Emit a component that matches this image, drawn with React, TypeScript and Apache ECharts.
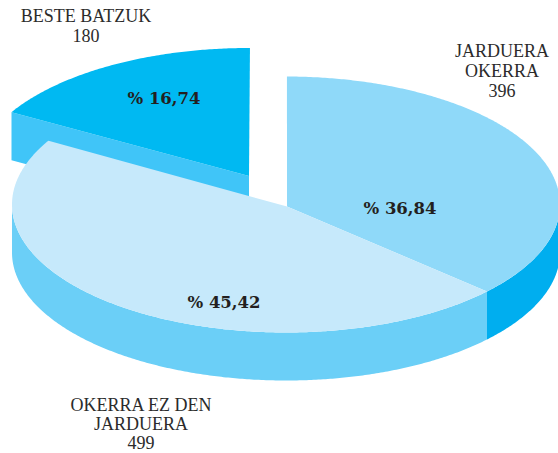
import React, { useEffect, useRef } from "react";
import * as echarts from "echarts";

const categories = ["JARDUERA\nOKERRA", "OKERRA EZ DEN\nJARDUERA", "BESTE BATZUK"];
const counts = [396, 499, 180];
const percentLabels = ["% 36,84", "% 45,42", "% 16,74"];

const topColors = ["#8FD9F9", "#C6E9FB", "#00B9F2"];
const wallColors = ["#00AEEF", "#6BCFF7", "#40C5F8"];
const exploded = [0, 0, 1];
const drawOrder = [2, 0, 1];
const nameCenters = [[502, 71], [141, 424], [86, 26]];
const nameLineHeights = [20, 19, 20];
const percentCenters = [[400, 208.5], [224, 302.5], [164, 98.5]];

const CX = 286, CY = 204.5, RX = 274, RY = 128, DEPTH = 48;
const START = 0.2;
const EXPLODE_DX = -37, EXPLODE_DY = -28.5;
const APEX_DX = 1, APEX_DY = 2;
const SERIF = "'Liberation Serif', serif";
const BOLD_SERIF = "'DejaVu Serif', serif";

const total = counts.reduce((a, b) => a + b, 0);

function renderSlice(_params: any, api: any) {
  const idx = api.value(1);
  const before = counts.slice(0, idx).reduce((a, b) => a + b, 0);
  const a0 = START + (before / total) * 360;
  const a1 = START + ((before + api.value(0)) / total) * 360;
  const off = exploded[idx];
  const ox = CX + off * EXPLODE_DX;
  const oy = CY + off * EXPLODE_DY;
  const rim = (deg: number, dy = 0) => {
    const t = (deg * Math.PI) / 180;
    return [ox + RX * Math.sin(t), oy - RY * Math.cos(t) + dy];
  };
  const arc = (from: number, to: number, dy = 0) => {
    const pts: number[][] = [];
    const n = Math.max(2, Math.ceil(Math.abs(to - from) * 2));
    for (let i = 0; i <= n; i++) pts.push(rim(from + ((to - from) * i) / n, dy));
    return pts;
  };
  const apex = [ox + (1 - off) * APEX_DX, oy + (1 - off) * APEX_DY];
  const children: any[] = [];

  if (off) {
    // Cut face of the pulled-out slice
    const r = rim(a0);
    children.push({
      type: "polygon",
      shape: { points: [r, apex, [apex[0], apex[1] + DEPTH], [r[0], r[1] + DEPTH]] },
      style: { fill: wallColors[idx] },
    });
  }
  const w0 = Math.max(a0, 90);
  const w1 = Math.min(a1, 270);
  if (w1 > w0) {
    children.push({
      type: "polygon",
      shape: { points: [...arc(w0, w1), ...arc(w1, w0, DEPTH)] },
      style: { fill: wallColors[idx] },
    });
  }
  children.push({
    type: "polygon",
    shape: { points: [apex, ...arc(a0, a1)] },
    style: { fill: topColors[idx] },
  });
  children.push({
    type: "text",
    style: {
      text: `${categories[idx]}\n${counts[idx]}`,
      x: nameCenters[idx][0],
      y: nameCenters[idx][1],
      align: "center",
      verticalAlign: "middle",
      font: `18px ${SERIF}`,
      lineHeight: nameLineHeights[idx],
      fill: "#2b2b2b",
    },
  });
  children.push({
    type: "text",
    style: {
      text: percentLabels[idx],
      x: percentCenters[idx][0],
      y: percentCenters[idx][1],
      align: "center",
      verticalAlign: "middle",
      font: `bold 16.5px ${BOLD_SERIF}`,
      fill: "#231f20",
    },
  });
  return { type: "group", children };
}

export default function App() {
  const ref = useRef<HTMLDivElement>(null);
  useEffect(() => {
    document.body.style.margin = "0";
    const chart = echarts.init(ref.current!, null, { renderer: "svg" });
    chart.setOption({
      animation: false,
      backgroundColor: "#ffffff",
      series: [
        {
          type: "custom",
          coordinateSystem: "none",
          silent: true,
          renderItem: renderSlice,
          data: drawOrder.map((i) => ({ value: [counts[i], i], name: categories[i] })),
        },
      ],
    });
    return () => chart.dispose();
  }, []);
  return <div ref={ref} style={{ width: 558, height: 453 }} />;
}
